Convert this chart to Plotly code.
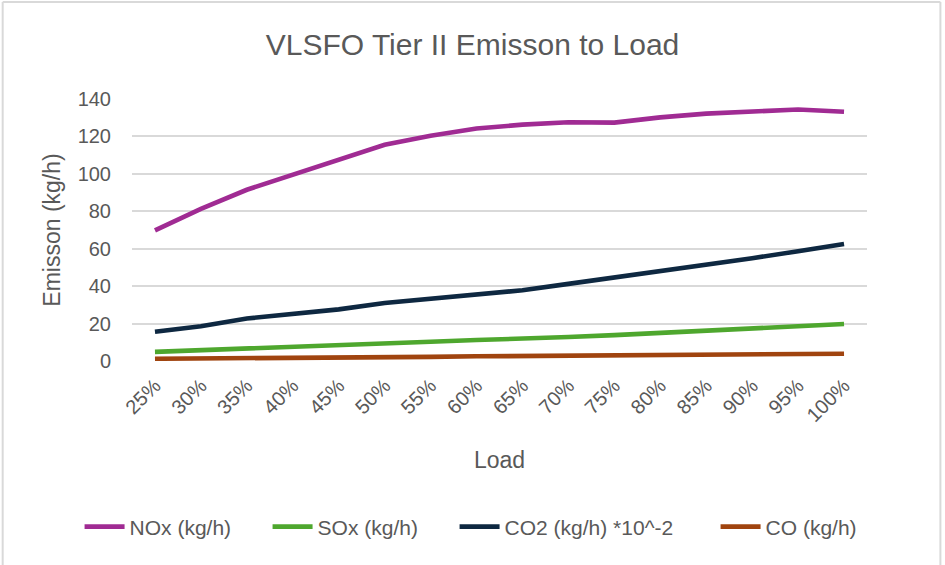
import plotly.graph_objects as go

# Engine load steps and measured emissions (kg/h)
loads = ["25%", "30%", "35%", "40%", "45%", "50%", "55%", "60%",
         "65%", "70%", "75%", "80%", "85%", "90%", "95%", "100%"]
nox = [69.8, 81.3, 91.5, 99.6, 107.4, 115.5, 120.4, 124.2,
       126.3, 127.6, 127.4, 130.2, 132.2, 133.6, 134.4, 133.2]
sox = [4.9, 5.7, 6.6, 7.7, 8.2, 8.9, 10.3, 11.2,
       11.7, 12.8, 13.8, 14.9, 16.0, 17.4, 18.6, 19.8]
co2_scaled = [15.6, 18.6, 22.7, 25.4, 27.6, 31.0, 33.3, 35.8,
              37.8, 41.2, 44.6, 47.9, 51.0, 54.9, 58.7, 62.5]
co = [1.2, 1.3, 1.4, 1.8, 1.9, 2.0, 2.2, 2.5,
      2.6, 2.8, 2.9, 3.2, 3.3, 3.4, 3.6, 3.9]

series_names = ["NOx (kg/h)", "SOx (kg/h)", "CO2 (kg/h) *10^-2", "CO (kg/h)"]
series_values = [nox, sox, co2_scaled, co]
series_colors = ["#A02B93", "#4EA72E", "#0E2841", "#A0440F"]
# text slot width of each legend entry
legend_widths = [133, 132, 206, 94]

FONT = "Liberation Sans, Arial, sans-serif"
GREY = "#595959"

fig = go.Figure()
for name, vals, color, lw in zip(series_names, series_values, series_colors, legend_widths):
    fig.add_trace(go.Scatter(
        x=loads, y=vals, name=name, mode="lines",
        line=dict(color=color, width=4.6),
        legendwidth=lw,
    ))

W, H = 945, 565
L, R, T, B = 131.5, 77.5, 99, 204
pw, ph = W - L - R, H - T - B


def px_to_paper_x(px):
    return (px - L) / pw


def px_to_paper_y(py):
    return (H - B - py) / ph


# thin frame around the chart area
frame = dict(type="line", xref="paper", yref="paper",
             line=dict(color="#D9D9D9", width=2), layer="above")
fig.add_shape(**frame, x0=px_to_paper_x(2), x1=px_to_paper_x(2),
              y0=px_to_paper_y(2), y1=px_to_paper_y(570))
fig.add_shape(**frame, x0=px_to_paper_x(2), x1=px_to_paper_x(941),
              y0=px_to_paper_y(2), y1=px_to_paper_y(2))
fig.add_shape(**frame, x0=px_to_paper_x(941), x1=px_to_paper_x(941),
              y0=px_to_paper_y(2), y1=px_to_paper_y(570))

fig.update_layout(
    width=W, height=H,
    margin=dict(l=L, r=R, t=T, b=B, pad=0, autoexpand=False),
    paper_bgcolor="white", plot_bgcolor="white",
    title=dict(text="VLSFO Tier II Emisson to Load",
               font=dict(family=FONT, size=30, color=GREY),
               x=0.5, xanchor="center", y=1 - 44 / H, yanchor="middle"),
    showlegend=True,
    legend=dict(orientation="h", x=px_to_paper_x(79), xanchor="left",
                y=px_to_paper_y(527), yanchor="middle",
                font=dict(family=FONT, size=21, color=GREY),
                itemwidth=40, traceorder="normal"),
    xaxis=dict(
        type="category", range=[-0.5, len(loads) - 0.5],
        showgrid=False, showline=False, zeroline=False,
        tickangle=-45, ticks="", ticklabelstandoff=8,
        tickfont=dict(family=FONT, size=20, color=GREY),
        title=dict(text="Load", standoff=26,
                   font=dict(family=FONT, size=23, color=GREY)),
    ),
    yaxis=dict(
        range=[0, 140], dtick=20, tick0=0,
        showgrid=True, gridcolor="#D9D9D9", gridwidth=1.5,
        zeroline=False, showline=False, ticks="",
        ticklabelstandoff=20,
        tickfont=dict(family=FONT, size=20, color=GREY),
        title=dict(text="Emisson (kg/h)", standoff=10,
                   font=dict(family=FONT, size=23, color=GREY)),
    ),
)

fig.write_html("out.html")
